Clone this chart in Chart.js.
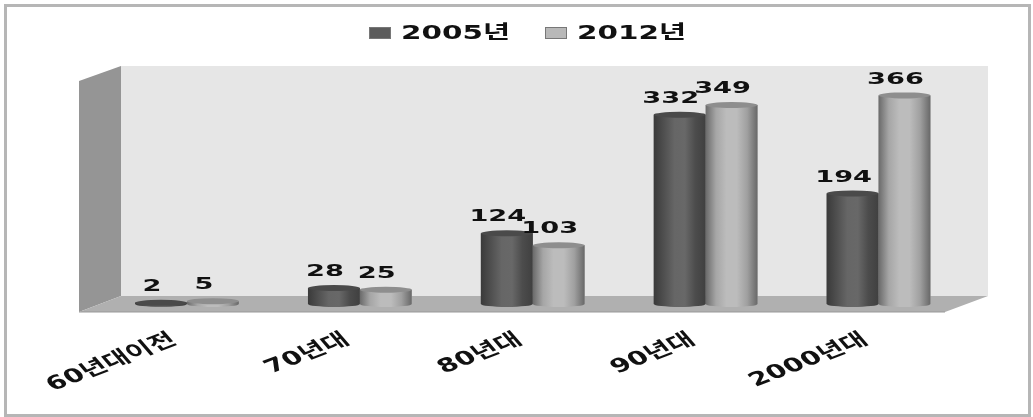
<!DOCTYPE html>
<html>
<head>
<meta charset="utf-8">
<style>
  body { margin: 0; background: #fff; }
  canvas { display: block; }
</style>
<script src="https://cdn.jsdelivr.net/npm/chart.js@4/dist/chart.umd.min.js"></script>
</head>
<body>
<canvas id="decadeChart" width="1033" height="417"></canvas>
<script>
const categories = ['60년대이전', '70년대', '80년대', '90년대', '2000년대'];
const seriesNames = ['2005년', '2012년'];
const values2005 = [2, 28, 124, 332, 194];
const values2012 = [5, 25, 103, 349, 366];

const FONT = '"DejaVu Sans", "Noto Sans CJK KR", sans-serif';

const shades = [
  { stops: ['#3a3a3a', '#505050', '#666666', '#686868', '#4c4c4c', '#404040'], cap: '#4a4a4a', legend: '#5c5c5c' },
  { stops: ['#6a6a6a', '#a6a6a6', '#bcbcbc', '#bcbcbc', '#a0a0a0', '#686868'], cap: '#8e8e8e', legend: '#b8b8b8' }
];

// the source picture is stretched sideways, so text is drawn wide
// stretch goes first so rotated labels get sheared the same way
function wideText(c, text, x, y, opts) {
  c.save();
  c.font = opts.font;
  c.fillStyle = '#111';
  c.textAlign = opts.align;
  c.textBaseline = opts.baseline;
  c.translate(x, y);
  c.scale(opts.stretch, 1);
  if (opts.angle) c.rotate(opts.angle);
  c.fillText(text, 0, 0);
  c.restore();
}

// frame and the 3d box behind the bars
const box = {
  id: 'box',
  beforeDraw(chart) {
    const c = chart.ctx, a = chart.chartArea;
    const l = a.left - 21.5, r = a.right + 23;
    const back = a.left + 20.5, y0 = a.bottom + 8, y1 = a.bottom - 8;
    c.save();
    c.strokeStyle = '#b6b6b6';
    c.lineWidth = 3;
    c.strokeRect(5.5, 5.5, 1024, 410);

    c.fillStyle = '#e6e6e6';
    c.fillRect(back, 66, r - back, y1 - 66);

    c.fillStyle = '#959595';
    c.beginPath();
    c.moveTo(l, 81); c.lineTo(back, 66); c.lineTo(back, y1); c.lineTo(l, y0);
    c.closePath(); c.fill();

    c.fillStyle = '#b0b0b0';
    c.beginPath();
    c.moveTo(l, y0); c.lineTo(r - 43, y0); c.lineTo(r, y1); c.lineTo(back, y1);
    c.closePath(); c.fill();
    c.strokeStyle = '#999';
    c.lineWidth = 1;
    c.beginPath(); c.moveTo(l, y0); c.lineTo(r - 43, y0); c.stroke();
    c.restore();
  }
};

// rounds the flat bars off into cylinders and writes the values over them
const cylinders = {
  id: 'cylinders',
  afterDatasetsDraw(chart) {
    const c = chart.ctx;
    chart.data.datasets.forEach((ds, i) => {
      const shade = shades[i];
      chart.getDatasetMeta(i).data.forEach((bar) => {
        const left = bar.x - bar.width / 2;
        const ry = 3;
        const g = c.createLinearGradient(left, 0, left + bar.width, 0);
        shade.stops.forEach((s, k) => g.addColorStop(k / (shade.stops.length - 1), s));
        c.save();
        c.fillStyle = g;
        c.beginPath();
        c.moveTo(left, bar.y);
        c.lineTo(left, bar.base);
        c.ellipse(bar.x, bar.base, bar.width / 2, ry, 0, Math.PI, 0, true);
        c.lineTo(left + bar.width, bar.y);
        c.closePath();
        c.fill();
        c.fillStyle = shade.cap;
        c.beginPath();
        c.ellipse(bar.x, bar.y, bar.width / 2, ry, 0, 0, Math.PI * 2);
        c.fill();
        c.restore();
      });
    });
    chart.data.datasets.forEach((ds, i) => {
      chart.getDatasetMeta(i).data.forEach((bar, j) => {
        wideText(c, String(ds.data[j]), bar.x - 9, bar.y - 16, {
          font: 'bold 16px ' + FONT, align: 'center', baseline: 'middle', stretch: 1.7
        });
      });
    });
  }
};

// category labels and legend, same wide text
const labels = {
  id: 'labels',
  afterDraw(chart) {
    const c = chart.ctx, x = chart.scales.x;
    categories.forEach((name, i) => {
      wideText(c, name, x.getPixelForTick(i) - 9, 343, {
        font: 'bold 19px ' + FONT, align: 'right', baseline: 'alphabetic',
        angle: -30 * Math.PI / 180, stretch: 1.5
      });
    });
    const lefts = [369, 545];
    seriesNames.forEach((name, i) => {
      c.fillStyle = shades[i].legend;
      c.strokeStyle = '#777';
      c.fillRect(lefts[i], 27, 22, 12);
      c.strokeRect(lefts[i] + 0.5, 27.5, 21, 11);
      wideText(c, name, lefts[i] + 32, 34, {
        font: 'bold 19px ' + FONT, align: 'left', baseline: 'middle', stretch: 1.55
      });
    });
  }
};

new Chart(document.getElementById('decadeChart'), {
  type: 'bar',
  plugins: [box, cylinders, labels],
  data: {
    labels: categories,
    datasets: [
      { label: seriesNames[0], data: values2005, backgroundColor: '#5a5a5a' },
      { label: seriesNames[1], data: values2012, backgroundColor: '#b4b4b4' }
    ]
  },
  options: {
    responsive: false,
    animation: false,
    categoryPercentage: 0.6,
    barPercentage: 1,
    layout: { padding: { left: 100.5, right: 68, top: 76 } },
    plugins: {
      tooltip: { enabled: false },
      legend: { display: false }
    },
    scales: {
      x: {
        grid: { display: false },
        border: { display: false },
        afterFit(scale) { scale.height = 113; },
        ticks: { display: false }
      },
      y: {
        display: false,
        min: 0,
        max: 400
      }
    }
  }
});
</script>
</body>
</html>
